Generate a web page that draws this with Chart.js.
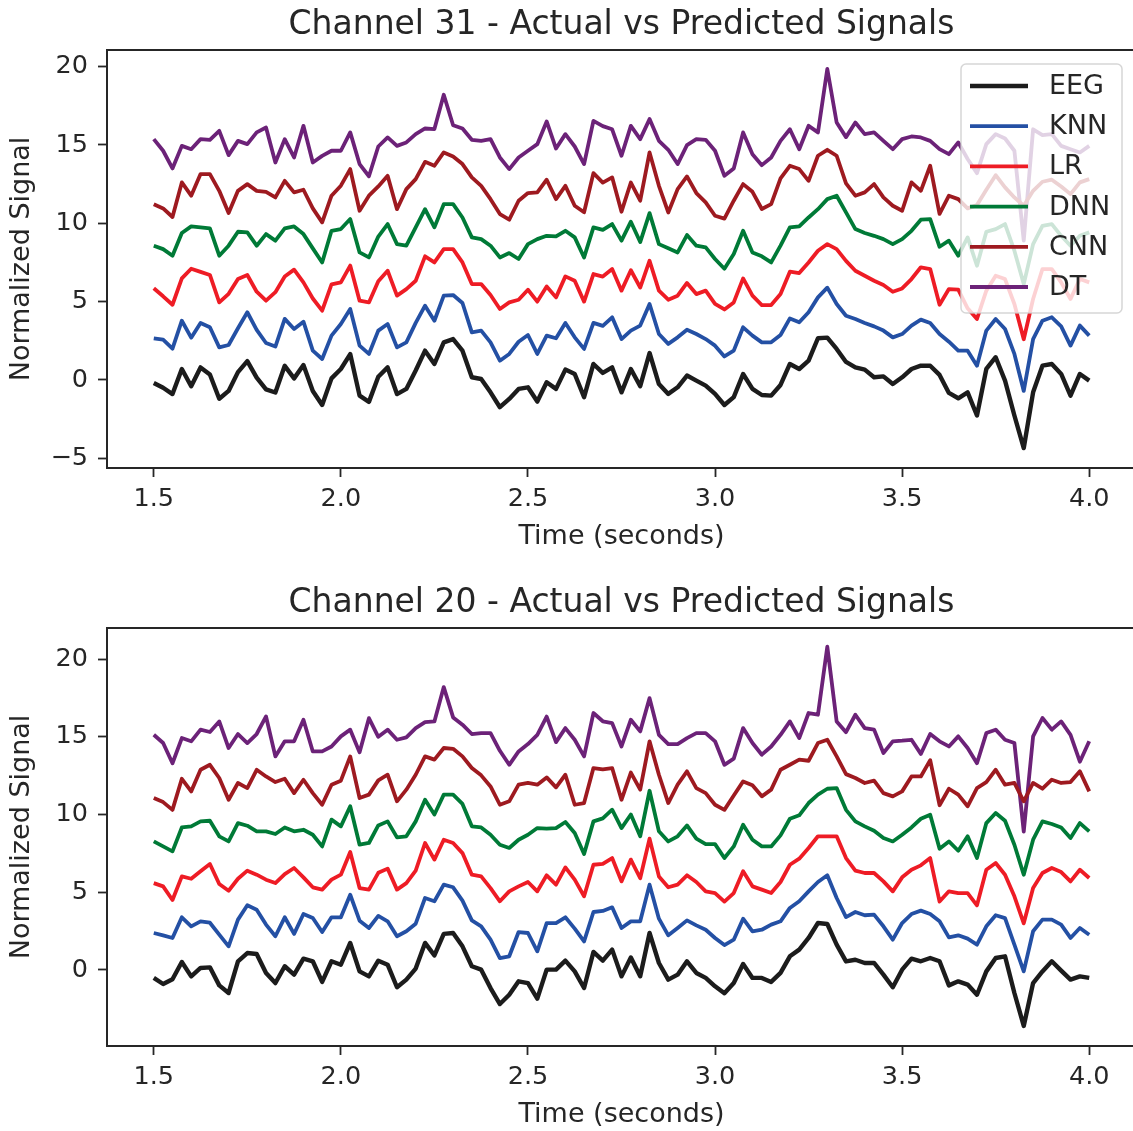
<!DOCTYPE html>
<html>
<head>
<meta charset="utf-8">
<title>Actual vs Predicted Signals</title>
<script src="https://cdn.jsdelivr.net/npm/chart.js@4.4.1/dist/chart.umd.min.js"></script>
<style>
  html, body { margin: 0; padding: 0; background: #fff; overflow: hidden; width: 1133px; height: 1131px; }
  .panel { position: absolute; left: 0; width: 1136px; height: 566px; }
  #panel31 { top: 0; }
  #panel20 { top: 578px; }
</style>
</head>
<body>
<div class="panel" id="panel31"><canvas id="chart31"></canvas></div>
<div class="panel" id="panel20"><canvas id="chart20"></canvas></div>
<script>
// ----------------------------------------
// Data
// ----------------------------------------
// sample times, 1.5 s to 4.0 s every 25 ms
const times = Array.from({ length: 101 }, (_, i) => +(1.5 + i * 0.025).toFixed(3));

const seriesNames = ["EEG", "KNN", "LR", "DNN", "CNN", "DT"];

const xRange = [1.375, 4.125];
const xTicks = [1.5, 2.0, 2.5, 3.0, 3.5, 4.0];
const yRange31 = [-5.62, 21.06];
const yTicks31 = [-5, 0, 5, 10, 15, 20];
const yRange20 = [-4.89, 22.0];
const yTicks20 = [0, 5, 10, 15, 20];

// Channel 31
const eeg31 = [
  -0.2, -0.5, -0.9, 0.7, -0.4, 0.8, 0.35, -1.2, -0.7, 0.5,
  1.2, 0.15, -0.6, -0.8, 0.9, 0.1, 0.95, -0.7, -1.6, 0.1,
  0.7, 1.65, -1.0, -1.4, 0.2, 0.8, -0.9, -0.57, 0.6, 1.87,
  1.02, 2.4, 2.61, 1.87, 0.17, 0.06, -0.79, -1.74, -1.21, -0.57,
  -0.47, -1.38, -0.15, -0.57, 0.66, 0.38, -1.1, 1.02, 0.45, 0.8,
  -0.79, 0.7, -0.4, 1.72, -0.26, -0.89, -0.47, 0.28, -0.04, -0.36,
  -0.89, -1.6, -1.1, 0.38, -0.57, -0.96, -1.0, -0.32, 1.02, 0.7,
  1.23, 2.66, 2.7, 1.98, 1.15, 0.8, 0.66, 0.17, 0.23, -0.26,
  0.17, 0.7, 0.91, 0.91, 0.32, -0.83, -1.17, -0.79, -2.27, 0.7,
  1.45, -0.04, -2.27, -4.35, -0.79, 0.91, 1.02, 0.38, -1.0, 0.38,
  -0.04
];
const knn31 = [
  2.66, 2.57, 2.0, 3.78, 2.7, 3.64, 3.36, 2.08, 2.23, 3.3,
  4.32, 3.2, 2.36, 2.13, 3.9, 3.25, 3.72, 1.87, 1.34, 2.83,
  3.57, 4.53, 2.19, 1.66, 3.15, 3.57, 2.08, 2.4, 3.64, 4.74,
  3.78, 5.38, 5.42, 4.91, 3.04, 3.15, 2.4, 1.23, 1.66, 2.44,
  2.87, 1.66, 2.83, 2.66, 3.64, 2.72, 1.98, 3.64, 3.45, 4.0,
  2.61, 3.15, 3.47, 4.85, 2.93, 2.3, 2.72, 3.21, 2.93, 2.61,
  2.19, 1.5, 1.87, 3.36, 2.83, 2.4, 2.4, 2.87, 3.93, 3.68,
  4.32, 5.27, 5.89, 4.85, 4.1, 3.89, 3.64, 3.42, 3.15, 2.72,
  2.93, 3.47, 3.85, 3.64, 2.93, 2.44, 1.87, 1.87, 0.91, 3.15,
  3.89, 3.25, 1.66, -0.7, 2.61, 3.78, 4.0, 3.42, 2.19, 3.47,
  2.83
];
const lr31 = [
  5.85, 5.34, 4.8, 6.48, 7.1, 6.9, 6.7, 4.95, 5.5, 6.45,
  6.7, 5.63, 5.06, 5.6, 6.6, 7.04, 6.23, 5.2, 4.42, 6.1,
  6.23, 7.3, 5.06, 4.95, 6.3, 6.97, 5.38, 5.8, 6.33, 7.89,
  7.5, 8.35, 8.35, 7.5, 6.12, 6.12, 5.42, 4.53, 4.95, 5.12,
  5.76, 5.0, 5.97, 5.27, 6.61, 6.33, 5.0, 6.76, 6.6, 7.08,
  5.7, 7.0, 5.9, 7.61, 5.7, 5.12, 5.38, 6.19, 5.48, 5.7,
  4.85, 4.5, 4.95, 6.48, 5.38, 4.78, 4.78, 5.48, 6.91, 6.82,
  7.5, 8.25, 8.67, 8.35, 7.6, 6.97, 6.65, 6.33, 6.06, 5.63,
  5.84, 6.44, 7.19, 7.08, 4.8, 5.8, 5.76, 4.57, 3.89, 5.7,
  6.65, 6.44, 4.85, 2.6, 5.17, 7.08, 7.08, 6.23, 5.17, 6.44,
  6.23
];
const dnn31 = [
  8.57, 8.35, 7.93, 9.38, 9.8, 9.74, 9.67, 7.93, 8.57, 9.46,
  9.42, 8.57, 9.31, 8.89, 9.67, 9.8, 9.31, 8.4, 7.5, 9.52,
  9.63, 10.27, 8.14, 7.82, 9.15, 9.95, 8.67, 8.57, 9.74, 10.9,
  9.74, 11.22, 11.22, 10.37, 9.1, 8.99, 8.57, 7.82, 8.1, 7.72,
  8.67, 8.99, 9.2, 9.16, 9.52, 9.1, 7.82, 9.74, 9.58, 9.95,
  8.89, 10.1, 8.8, 10.65, 8.67, 8.4, 8.14, 9.25, 8.57, 8.46,
  7.72, 7.1, 8.04, 9.52, 8.14, 7.89, 7.5, 8.57, 9.74, 9.8,
  10.37, 10.9, 11.54, 11.76, 10.7, 9.63, 9.38, 9.2, 8.99, 8.67,
  8.99, 9.52, 10.23, 10.27, 8.5, 8.89, 7.93, 9.1, 7.29, 9.46,
  9.63, 9.95, 8.25, 6.12, 8.67, 9.84, 9.95, 9.2, 8.57, 9.2,
  9.42
];
const cnn31 = [
  11.22, 10.95, 10.4, 12.61, 11.76, 13.14, 13.14, 12.07, 10.65, 12.07,
  12.5, 12.07, 12.0, 11.65, 12.71, 11.97, 12.14, 10.95, 10.06, 11.76,
  12.4, 13.46, 10.8, 11.76, 12.35, 13.03, 10.9, 12.18, 12.82, 13.92,
  13.67, 14.52, 14.26, 13.78, 12.93, 12.39, 11.54, 10.59, 10.23, 11.44,
  11.93, 11.97, 12.78, 11.54, 12.39, 11.12, 10.7, 13.2, 12.6, 12.93,
  10.74, 12.6, 11.44, 14.52, 12.39, 10.69, 12.18, 12.99, 11.93, 11.33,
  10.48, 10.3, 11.44, 12.5, 12.01, 10.91, 11.22, 12.86, 13.67, 13.46,
  12.71, 14.31, 14.69, 14.31, 12.55, 11.76, 11.97, 12.5, 11.65, 11.12,
  10.8, 12.61, 12.07, 13.67, 10.6, 11.76, 11.54, 10.95, 11.16, 12.14,
  13.07, 12.29, 11.65, 11.12, 12.07, 12.65, 12.78, 12.35, 11.86, 12.61,
  12.82
];
const dt31 = [
  15.37, 14.63, 13.5, 14.94, 14.73, 15.37, 15.33, 15.9, 14.35, 15.26,
  15.05, 15.8, 16.11, 13.88, 15.37, 14.2, 16.22, 13.88, 14.3, 14.63,
  14.63, 15.8, 13.78, 13.0, 14.9, 15.48, 14.94, 15.16, 15.69, 16.05,
  16.01, 18.2, 16.26, 16.05, 15.33, 15.26, 15.37, 14.2, 13.46, 14.2,
  14.63, 15.05, 16.5, 14.77, 15.69, 14.9, 13.78, 16.54, 16.2, 16.0,
  14.31, 16.22, 15.37, 16.65, 15.26, 14.69, 13.78, 14.99, 15.37, 15.33,
  14.63, 13.03, 13.5, 15.8, 14.41, 13.71, 14.2, 15.26, 16.0, 14.73,
  16.22, 15.8, 19.85, 16.43, 15.5, 16.43, 15.69, 15.8, 15.26, 14.73,
  15.37, 15.54, 15.48, 15.26, 14.73, 14.41, 15.16, 14.1, 13.2, 15.05,
  15.69, 15.41, 14.63, 8.9, 16.0, 15.63, 15.69, 14.94, 14.73, 14.52,
  14.94
];

// Channel 20
const eeg20 = [
  -0.51, -0.9, -0.6, 0.51, -0.41, 0.13, 0.17, -0.99, -1.48, 0.56,
  1.09, 1.03, -0.19, -0.84, 0.24, -0.3, 0.73, 0.56, -0.77, 0.56,
  0.34, 1.74, -0.09, -0.41, 0.6, 0.34, -1.11, -0.62, 0.09, 1.74,
  0.94, 2.32, 2.38, 1.52, 0.24, 0.02, -1.16, -2.19, -1.59, -0.73,
  -0.84, -1.84, 0.02, 0.02, 0.6, -0.09, -1.16, 1.16, 0.6, 1.31,
  -0.41, 0.8, -0.4, 2.38, 0.45, -0.62, -0.3, 0.56, -0.19, -0.51,
  -1.05, -1.5, -0.84, 0.39, -0.51, -0.51, -0.77, -0.19, 0.88, 1.31,
  2.06, 3.02, 2.96, 1.63, 0.55, 0.66, 0.45, 0.45, -0.3, -1.11,
  0.02, 0.73, 0.56, 0.77, 0.56, -0.99, -0.73, -0.94, -1.59, -0.09,
  0.77, 0.88, -1.48, -3.6, -0.84, -0.09, 0.56, -0.04, -0.62, -0.41,
  -0.51
];
const knn20 = [
  2.38, 2.23, 2.06, 3.39, 2.81, 3.13, 3.04, 2.27, 1.52, 3.24,
  4.16, 3.88, 2.92, 2.17, 3.39, 2.32, 3.6, 3.34, 2.44, 3.39,
  3.39, 4.84, 3.17, 2.7, 3.48, 3.13, 2.17, 2.49, 2.98, 4.63,
  4.42, 5.49, 5.32, 4.46, 3.19, 2.81, 1.95, 0.77, 0.88, 2.44,
  2.38, 1.2, 3.02, 3.02, 3.39, 2.66, 1.84, 3.73, 3.8, 4.03,
  2.7, 3.13, 3.13, 5.49, 3.3, 2.23, 2.7, 3.19, 2.87, 2.59,
  2.06, 1.6, 1.95, 3.3, 2.49, 2.59, 2.92, 3.13, 3.99, 4.42,
  5.06, 5.66, 6.09, 4.63, 3.4, 3.73, 3.52, 3.56, 2.81, 1.95,
  3.02, 3.6, 3.82, 3.6, 3.13, 2.1, 2.23, 2.02, 1.63, 2.81,
  3.52, 3.34, 1.63, -0.09, 2.49, 3.24, 3.24, 2.92, 2.06, 2.7,
  2.27
];
const lr20 = [
  5.59, 5.38, 4.5, 6.02, 5.87, 6.35, 6.82, 5.53, 5.1, 5.87,
  6.39, 6.13, 5.81, 5.59, 6.17, 6.56, 5.96, 5.32, 5.17, 5.81,
  6.13, 7.59, 5.27, 5.17, 6.25, 6.52, 5.17, 5.59, 6.39, 8.17,
  7.1, 8.38, 8.17, 7.52, 6.13, 6.02, 5.27, 4.42, 5.06, 5.38,
  5.66, 5.06, 6.09, 5.49, 6.6, 5.81, 4.74, 6.77, 6.82, 7.2,
  5.7, 7.1, 5.9, 8.45, 6.02, 5.32, 5.49, 6.09, 5.66, 5.06,
  4.95, 4.4, 4.95, 6.35, 5.38, 5.17, 4.95, 5.66, 6.77, 7.16,
  7.85, 8.6, 8.6, 8.6, 7.2, 6.39, 6.24, 6.24, 5.7, 5.06,
  5.96, 6.45, 6.73, 7.2, 4.4, 5.06, 4.95, 4.95, 4.16, 6.45,
  6.88, 6.13, 4.74, 3.0, 5.27, 6.24, 6.56, 6.3, 5.7, 6.45,
  5.92
];
const dnn20 = [
  8.27, 7.95, 7.63, 9.17, 9.24, 9.56, 9.6, 8.6, 8.27, 9.45,
  9.28, 8.92, 8.92, 8.75, 9.17, 8.92, 9.02, 8.7, 7.95, 9.67,
  9.24, 10.53, 8.06, 8.17, 9.3, 9.56, 8.53, 8.6, 9.56, 10.95,
  10.0, 11.28, 11.28, 10.68, 9.24, 9.17, 8.7, 8.06, 7.85, 8.38,
  8.7, 9.13, 9.09, 9.13, 9.52, 8.81, 7.46, 9.56, 9.75, 10.31,
  9.13, 10.0, 8.6, 11.53, 8.92, 8.27, 8.6, 9.3, 8.45, 8.1,
  8.1, 7.2, 7.95, 9.35, 8.38, 7.95, 7.95, 8.66, 9.73, 9.95,
  10.74, 11.28, 11.66, 11.7, 10.3, 9.56, 9.24, 8.96, 8.49, 8.27,
  8.7, 9.17, 9.73, 9.99, 7.8, 8.27, 7.67, 8.6, 7.2, 9.45,
  10.1, 9.6, 8.06, 6.13, 8.38, 9.56, 9.39, 9.17, 8.49, 9.45,
  8.92
];
const cnn20 = [
  11.06, 10.8, 10.3, 12.3, 11.49, 12.88, 13.2, 12.35, 10.95, 12.03,
  11.7, 12.88, 12.45, 12.09, 12.3, 11.38, 12.24, 11.38, 10.63, 11.92,
  12.18, 13.74, 11.06, 11.28, 12.2, 12.56, 10.85, 11.6, 12.56, 13.74,
  13.53, 14.28, 14.23, 13.74, 12.99, 12.52, 11.81, 10.63, 10.85, 11.92,
  12.03, 11.92, 12.39, 11.75, 12.56, 10.63, 10.74, 12.99, 12.9, 12.99,
  10.95, 12.7, 11.6, 14.71, 12.56, 10.74, 11.92, 12.78, 11.7, 11.38,
  10.63, 10.3, 11.23, 12.13, 11.88, 11.17, 11.6, 12.88, 13.2, 13.53,
  13.46, 14.6, 14.81, 13.74, 12.6, 12.35, 12.03, 12.18, 11.38, 11.17,
  11.49, 12.45, 12.45, 13.5, 10.6, 11.66, 11.28, 10.53, 11.7, 12.09,
  12.88, 11.92, 12.03, 10.85, 12.03, 11.66, 12.24, 12.03, 12.09, 12.78,
  11.49
];
const dt20 = [
  15.13, 14.6, 13.3, 14.92, 14.71, 15.46, 15.31, 15.99, 14.28, 15.18,
  14.6, 15.18, 16.31, 13.74, 14.71, 14.71, 16.1, 14.06, 14.06, 14.38,
  15.03, 15.46, 14.0, 16.2, 15.0, 15.46, 14.81, 14.96, 15.56, 15.95,
  15.99, 18.2, 16.25, 15.78, 15.18, 15.24, 15.24, 14.1, 13.2, 14.06,
  14.53, 15.13, 16.3, 14.66, 15.56, 14.81, 13.74, 16.53, 16.0, 15.88,
  14.38, 16.1, 15.35, 17.49, 15.13, 14.53, 14.53, 14.92, 15.24, 15.24,
  14.71, 13.2, 13.6, 15.56, 14.6, 13.85, 14.38, 15.13, 15.99, 14.92,
  16.53, 16.42, 20.8, 15.99, 15.3, 16.42, 15.56, 15.46, 13.96, 14.71,
  14.75, 14.81, 13.9, 15.18, 14.71, 14.38, 15.03, 14.28, 13.3, 15.24,
  15.46, 14.81, 14.6, 8.9, 15.03, 16.21, 15.46, 15.99, 15.13, 13.4,
  14.71
];

// ----------------------------------------
// Styles
// ----------------------------------------
const seriesColors = ["#1c1c1c", "#2450a4", "#ee1c25", "#007a37", "#9e1a20", "#6c2278"];
const seriesWidths = [4.4, 3.8, 3.8, 3.8, 3.8, 3.8];
const FONT = '"DejaVu Sans", sans-serif';
const INK = "#262626";

// ----------------------------
// Plugins
// ----------------------------
// axes title, centred over the plot box
const axTitle = {
  id: "axTitle",
  afterDraw(chart, args, opts) {
    const { ctx, chartArea: a } = chart;
    ctx.save();
    ctx.font = "33px " + FONT;
    ctx.fillStyle = INK;
    ctx.textAlign = "center";
    ctx.textBaseline = "alphabetic";
    ctx.fillText(opts.text, (a.left + a.right) / 2, a.top - 16);
    ctx.restore();
  }
};

// full box round the plot
const frame = {
  id: "frame",
  afterDatasetsDraw(chart) {
    const { ctx, chartArea: a } = chart;
    ctx.save();
    ctx.strokeStyle = INK;
    ctx.lineWidth = 2;
    ctx.strokeRect(a.left, a.top, a.right - a.left, a.bottom - a.top);
    ctx.restore();
  }
};

// legend box in the upper right corner, semi transparent
const boxLegend = {
  id: "boxLegend",
  afterDraw(chart, args, opts) {
    if (!opts.display) return;
    const { ctx, chartArea: a } = chart;
    const w = 161, h = 249, r = 5;
    const x0 = a.right - 14 - w, y0 = a.top + 14;
    ctx.save();
    ctx.beginPath();
    ctx.moveTo(x0 + r, y0);
    ctx.arcTo(x0 + w, y0, x0 + w, y0 + h, r);
    ctx.arcTo(x0 + w, y0 + h, x0, y0 + h, r);
    ctx.arcTo(x0, y0 + h, x0, y0, r);
    ctx.arcTo(x0, y0, x0 + w, y0, r);
    ctx.closePath();
    ctx.fillStyle = "rgba(255,255,255,0.8)";
    ctx.fill();
    ctx.strokeStyle = "rgba(204,204,204,0.8)";
    ctx.lineWidth = 1.5;
    ctx.stroke();

    chart.data.datasets.forEach((ds, i) => {
      const y = y0 + 22 + i * 40.2;
      ctx.beginPath();
      ctx.strokeStyle = ds.borderColor;
      ctx.lineWidth = ds.borderWidth;
      ctx.lineCap = "butt";
      ctx.moveTo(x0 + 9, y);
      ctx.lineTo(x0 + 67, y);
      ctx.stroke();
      ctx.fillStyle = INK;
      ctx.font = "27px " + FONT;
      ctx.textAlign = "left";
      ctx.textBaseline = "middle";
      ctx.fillText(ds.label, x0 + 88, y + 1);
    });
    ctx.restore();
  }
};

// ----------------------------
// Chart builder
// ----------------------------
function buildChart(canvasId, title, series, yRange, yTicks, showLegend) {
  const datasets = seriesNames.map((name, i) => ({
    label: name,
    data: times.map((t, j) => ({ x: t, y: series[i][j] })),
    borderColor: seriesColors[i],
    backgroundColor: seriesColors[i],
    borderWidth: seriesWidths[i],
    borderJoinStyle: "round",
    pointRadius: 0,
    tension: 0,
    fill: false
  }));

  return new Chart(document.getElementById(canvasId), {
    type: "line",
    data: { datasets },
    options: {
      responsive: true,
      maintainAspectRatio: false,
      animation: false,
      events: [],
      layout: { padding: { top: 50, left: 0, right: 0, bottom: 0 }, autoPadding: false },
      plugins: {
        legend: { display: false },
        tooltip: { enabled: false },
        axTitle: { text: title },
        boxLegend: { display: showLegend }
      },
      scales: {
        x: {
          type: "linear",
          min: xRange[0],
          max: xRange[1],
          afterBuildTicks: s => { s.ticks = xTicks.map(v => ({ value: v })); },
          afterFit: s => { s.height = 98; s.paddingLeft = 0; s.paddingRight = 0; },
          ticks: {
            color: INK,
            font: { family: FONT, size: 25.5 },
            padding: 7,
            maxRotation: 0,
            autoSkip: false,
            callback: v => Number(v).toFixed(1)
          },
          grid: { drawOnChartArea: false, drawTicks: true, tickLength: 9, tickWidth: 1.8, tickColor: INK },
          border: { display: false },
          title: {
            display: true,
            text: "Time (seconds)",
            color: INK,
            font: { family: FONT, size: 27 },
            padding: { top: 0, bottom: 13 }
          }
        },
        y: {
          min: yRange[0],
          max: yRange[1],
          afterBuildTicks: s => { s.ticks = yTicks.map(v => ({ value: v })); },
          afterFit: s => { s.width = 107; s.paddingTop = 0; s.paddingBottom = 0; },
          ticks: {
            color: INK,
            font: { family: FONT, size: 25.5 },
            padding: 10,
            callback: v => (v < 0 ? "\u2212" + Math.abs(v) : String(v))
          },
          grid: { drawOnChartArea: false, drawTicks: true, tickLength: 9, tickWidth: 1.8, tickColor: INK },
          border: { display: false },
          title: {
            display: true,
            text: "Normalized Signal",
            color: INK,
            font: { family: FONT, size: 27 },
            padding: { top: 6, bottom: 0 }
          }
        }
      }
    },
    plugins: [axTitle, frame, boxLegend]
  });
}

// ----------------------------
// INITIAL LOAD
// ----------------------------
buildChart("chart31", "Channel 31 - Actual vs Predicted Signals",
  [eeg31, knn31, lr31, dnn31, cnn31, dt31], yRange31, yTicks31, true);
buildChart("chart20", "Channel 20 - Actual vs Predicted Signals",
  [eeg20, knn20, lr20, dnn20, cnn20, dt20], yRange20, yTicks20, false);
</script>
</body>
</html>
